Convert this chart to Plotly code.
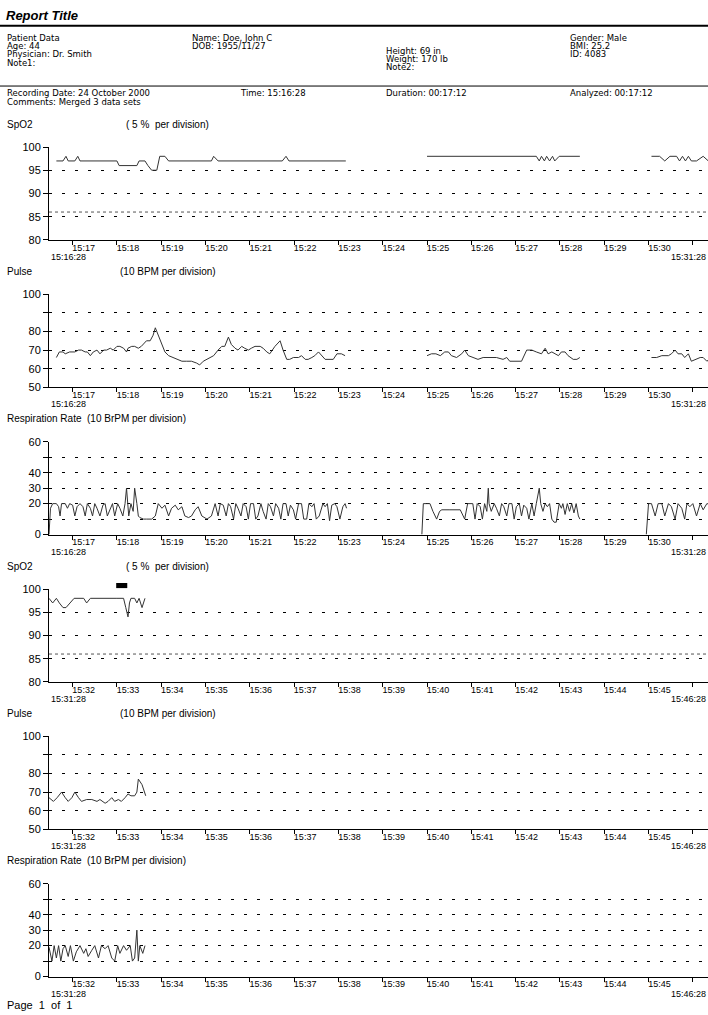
import pandas as pd
import plotly.graph_objects as go

W, H = 708, 1015
START = pd.Timestamp("2000-10-24 15:16:28")

# ---- data: seconds after 15:16:28, three merged recordings ----
set1_spo2_t = [10, 19, 23, 26, 35, 39, 42, 92, 95, 119, 122, 130, 134, 139, 146, 150, 157, 162,
               220, 223, 229, 316, 321, 325, 402]
set1_spo2 = [97, 97, 98, 97, 97, 98, 97, 97, 96, 96, 97, 97, 96, 95, 95, 98, 98, 97,
             97, 98, 97, 97, 98, 97, 97]
set2_spo2_t = [512, 660, 664, 667, 671, 674, 678, 682, 685, 691, 719]
set2_spo2 = [98, 98, 97, 98, 97, 98, 97, 98, 97, 98, 98]
set3_spo2_t = [816, 827, 834, 841, 850, 854, 858, 862, 866, 870, 877, 886, 893,
               900, 905, 910, 914, 919, 923, 928, 934, 942, 947, 951, 956, 992, 1001, 1004,
               1007, 1009, 1011, 1016, 1019, 1022, 1026, 1030]
set3_spo2 = [98, 98, 97, 98, 98, 97, 98, 97, 98, 97, 97, 98, 97,
             98, 97, 98, 97, 96, 96, 97, 98, 98, 98, 97, 98, 98, 98, 96,
             94, 97, 98, 98, 97, 98, 96, 98]

set1_pulse_t = [10, 14, 19, 22, 28, 35, 40, 44, 49, 52, 56, 60, 65, 69, 74, 78, 83, 87, 92, 96,
                101, 105, 107, 112, 116, 121, 125, 132, 137, 141, 144, 148, 153, 157, 162, 168,
                173, 180, 186, 193, 200, 204, 209, 214, 223, 229, 234, 238, 243, 247, 252, 256,
                261, 265, 270, 274, 279, 286, 290, 295, 299, 306, 313, 317, 322, 326, 331, 338,
                342, 347, 351, 356, 360, 365, 369, 374, 385, 390, 396, 401]
set1_pulse = [66, 69, 69, 68, 69, 69, 70, 70, 69, 69, 67, 69, 70, 68, 70, 70, 71, 70, 72, 72,
              71, 69, 71, 72, 72, 71, 72, 75, 75, 78, 82, 78, 74, 69, 67, 66, 65, 64, 64, 64,
              63, 62, 64, 65, 67, 70, 72, 72, 77, 73, 71, 70, 72, 71, 70, 71, 72, 72, 71, 69,
              68, 72, 75, 70, 65, 65, 66, 66, 67, 65, 65, 66, 67, 69, 67, 65, 65, 68, 68, 67]
set2_pulse_t = [512, 518, 524, 530, 536, 541, 545, 552, 559, 563, 568, 575, 581, 588, 597, 606,
                615, 620, 624, 633, 640, 647, 654, 660, 667, 672, 676, 681, 685, 690, 694, 699,
                703, 710, 715, 719]
set2_pulse = [67, 68, 68, 67, 69, 69, 67, 66, 68, 70, 67, 66, 65, 66, 66, 66, 65, 66, 64, 64,
              64, 70, 70, 69, 68, 71, 68, 69, 68, 67, 69, 69, 67, 65, 65, 66]
set3_pulse_t = [816, 823, 830, 839, 843, 848, 852, 857, 861, 866, 870, 877, 882, 886, 891,
                900, 906, 911, 917, 922, 926, 931, 935, 940, 944, 951, 958, 965, 969, 976, 980,
                985, 989, 994, 998, 1003, 1007, 1011, 1014, 1016, 1019, 1021, 1026, 1029, 1031]
set3_pulse = [66, 66, 67, 67, 68, 70, 68, 68, 66, 68, 64, 65, 66, 66, 64,
              67, 65, 67, 70, 67, 65, 67, 70, 67, 65, 66, 66, 65, 66, 64, 65,
              67, 65, 66, 65, 67, 69, 68, 68, 68, 70, 77, 74, 71, 68]

set1_resp_t = [0, 2, 5, 10, 13, 15, 17, 22, 25, 28, 32, 35, 38, 42, 46, 49, 52, 56, 59, 62,
               65, 69, 73, 76, 79, 83, 86, 89, 93, 96, 100, 103, 105, 108, 111, 114, 116, 119,
               121, 123, 128, 132, 139, 144, 148, 153, 157, 162, 166, 171, 175, 180, 184, 189,
               193, 198, 202, 207, 210, 214, 220, 225, 229, 232, 236, 240, 243, 246, 250, 253,
               256, 260, 263, 267, 270, 273, 277, 280, 283, 287, 290, 294, 297, 300, 304, 307,
               311, 314, 317, 321, 324, 327, 331, 334, 338, 342, 345, 349, 352, 356, 359, 362,
               366, 371, 374, 377, 380, 383, 387, 390, 394, 398, 401, 403]
set1_resp = [0, 17, 20, 20, 18, 12, 20, 20, 17, 20, 19, 12, 18, 20, 18, 12, 20, 17, 12, 20,
             17, 12, 19, 20, 12, 16, 20, 12, 20, 17, 12, 20, 30, 12, 20, 15, 30, 20, 12, 11,
             10, 10, 10, 12, 20, 17, 19, 12, 17, 19, 16, 18, 12, 11, 12, 16, 18, 12, 11, 10,
             12, 20, 12, 20, 19, 12, 20, 18, 10, 20, 17, 12, 20, 18, 10, 20, 20, 10, 12, 20,
             15, 10, 20, 18, 12, 20, 17, 10, 20, 20, 12, 19, 16, 10, 20, 20, 10, 10, 20, 18,
             20, 10, 12, 20, 18, 20, 9, 19, 20, 18, 10, 18, 20, 17]
set2_resp_t = [505, 507, 511, 516, 520, 525, 529, 532, 543, 552, 557, 561, 563, 567, 570, 574,
               577, 580, 584, 587, 590, 593, 595, 596, 599, 603, 606, 610, 613, 616, 620, 623,
               627, 630, 633, 637, 640, 643, 647, 650, 654, 657, 660, 664, 666, 669, 672, 675,
               678, 681, 684, 687, 691, 694, 696, 699, 702, 705, 708, 711, 714, 717, 719]
set2_resp = [0, 20, 20, 20, 15, 10, 15, 16, 16, 16, 16, 12, 10, 20, 20, 20, 10, 20, 18, 10,
             20, 15, 30, 20, 15, 20, 17, 12, 20, 18, 12, 20, 20, 10, 18, 20, 12, 19, 17, 10,
             20, 12, 20, 30, 20, 15, 20, 18, 20, 10, 8, 8, 20, 17, 20, 13, 20, 15, 20, 14,
             20, 12, 10]
set3_resp_t = [809, 812, 816, 821, 825, 830, 834, 839, 843, 848, 852, 857, 861, 864, 868, 872,
               877, 882, 886, 891, 900, 904, 907, 910, 913, 916, 919, 922, 926, 929, 933, 937,
               942, 947, 950, 953, 958, 962, 967, 971, 976, 980, 985, 989, 993, 996, 1001, 1005,
               1010, 1013, 1016, 1019, 1021, 1023, 1027, 1030]
set3_resp = [0, 20, 20, 12, 20, 20, 12, 20, 18, 10, 20, 17, 10, 20, 18, 20, 12, 20, 16, 20,
             19, 10, 20, 12, 20, 10, 18, 20, 13, 20, 10, 16, 20, 15, 18, 13, 17, 20, 12, 20,
             18, 20, 12, 10, 20, 15, 20, 17, 20, 10, 12, 30, 10, 20, 15, 20]

spo2_alarm = 86
event_t = [991, 1006]  # marker drawn above the second SpO2 strip

header_left = ["Patient Data", "Age: 44", "Physician: Dr. Smith", "Note1:"]
header_name = ["Name: Doe, John C", "DOB: 1955/11/27"]
header_body = ["Height: 69 in", "Weight: 170 lb", "Note2:"]
header_right = ["Gender: Male", "BMI: 25.2", "ID: 4083"]

FONT = "Liberation Sans, Arial, sans-serif"
HFONT = "DejaVu Sans, sans-serif"
LINE = "#333333"


def ts(sec):
    return START + pd.to_timedelta(sec, unit="s")


def px(x):
    return x / W


def py(y):
    return 1 - y / H


fig = go.Figure()

# panel layout: (signal, strip 0/1, title, unit text, unit x)
panels = [
    ("spo2", 0, "SpO2", "( 5 %  per division)", 124),
    ("pulse", 0, "Pulse", "(10 BPM per division)", 118),
    ("resp", 0, "Respiration Rate  (10 BrPM per division)", "", 0),
    ("spo2", 1, "SpO2", "( 5 %  per division)", 124),
    ("pulse", 1, "Pulse", "(10 BPM per division)", 118),
    ("resp", 1, "Respiration Rate  (10 BrPM per division)", "", 0),
]
yconf = {
    "spo2": dict(range=[80, 100], tickvals=[80, 85, 90, 95, 100],
                 ticktext=["80", "85", "90", "95", "100"]),
    "pulse": dict(range=[50, 100], tickvals=[50, 60, 70, 80, 90, 100],
                  ticktext=["50", "60", "70", "80", "", "100"]),
    "resp": dict(range=[0, 60], tickvals=[0, 10, 20, 30, 40, 50, 60],
                 ticktext=["0", "", "20", "30", "40", "", "60"]),
}
series = {
    "spo2": [(set1_spo2_t, set1_spo2), (set2_spo2_t, set2_spo2), (set3_spo2_t, set3_spo2)],
    "pulse": [(set1_pulse_t, set1_pulse), (set2_pulse_t, set2_pulse), (set3_pulse_t, set3_pulse)],
    "resp": [(set1_resp_t, set1_resp), (set2_resp_t, set2_resp), (set3_resp_t, set3_resp)],
}

X0 = 49
PX_PER_MIN = 44.3
visible_s = (W - X0) / PX_PER_MIN * 60
TOP0, STEP, PH = 142.7, 149.1, 94

annotations = []
shapes = []
for i, (sig, strip, title, unit, unit_x) in enumerate(panels):
    n = i + 1
    xa = "x" if n == 1 else f"x{n}"
    ya = "y" if n == 1 else f"y{n}"
    top = TOP0 + STEP * i
    bot = top + PH
    off = strip * 900
    for t, v in series[sig]:
        fig.add_trace(go.Scatter(x=ts(pd.Series(t)), y=v, mode="lines", xaxis=xa, yaxis=ya,
                                 line=dict(color=LINE, width=1), showlegend=False,
                                 hoverinfo="skip"))
    minutes = pd.date_range(ts(off + 32), periods=15, freq="min")
    labels = [m.strftime("%H:%M") for m in minutes]
    labels[-1] = ""
    fig.layout[f"xaxis{n}"] = dict(
        domain=[px(X0), 1], anchor=ya, type="date",
        range=[ts(off), ts(off + visible_s)],
        tickmode="array", tickvals=list(minutes), ticktext=labels,
        ticks="outside", ticklen=4, tickcolor="black", showline=True, linecolor="black",
        showgrid=False, zeroline=False, ticklabelshift=11, ticklabelstandoff=-5,
        tickfont=dict(family=FONT, size=9, color="black"),
    )
    fig.layout[f"yaxis{n}"] = dict(
        domain=[py(bot), py(top)], anchor=xa, tickmode="array",
        ticks="outside", ticklen=5, tickcolor="black", showline=True, linecolor="black",
        showgrid=True, gridcolor="black", griddash="3px,10px", gridwidth=1, zeroline=False,
        tickfont=dict(family=FONT, size=11, color="black"), **yconf[sig],
    )
    # panel titles
    annotations.append(dict(text=title, x=px(5), y=py(top - 23)))
    if unit:
        annotations.append(dict(text=unit, x=px(unit_x), y=py(top - 23)))
    # start / end time labels
    annotations.append(dict(text=ts(off).strftime("%H:%M:%S"), x=ts(off), xref=xa,
                            y=0, yref=f"{ya} domain", yshift=-17,
                            font=dict(family=FONT, size=9, color="black")))
    annotations.append(dict(text=ts(off + 900).strftime("%H:%M:%S"), x=1,
                            y=0, yref=f"{ya} domain", yshift=-17, xanchor="right",
                            font=dict(family=FONT, size=9, color="black")))
    if sig == "spo2":
        shapes.append(dict(type="line", xref=f"{xa} domain", yref=ya, x0=0, x1=1,
                           y0=spo2_alarm, y1=spo2_alarm,
                           line=dict(color="#555555", width=1, dash="3px,3px")))
    if sig == "spo2" and strip == 1:
        shapes.append(dict(type="rect", xref=xa, yref=f"{ya} domain",
                           x0=ts(event_t[0]), x1=ts(event_t[1]), y0=1.01, y1=1.065,
                           fillcolor="black", line=dict(width=0)))

# report header
hfont = dict(family=HFONT, size=8.5, color="black")
annotations.append(dict(text="<b><i>Report Title</i></b>", x=px(4), y=py(10),
                        font=dict(family=FONT, size=13, color="black")))
for k, s in enumerate(header_left):
    annotations.append(dict(text=s, x=px(5), y=py(32 + 8.5 * k), font=hfont))
for k, s in enumerate(header_name):
    annotations.append(dict(text=s, x=px(190), y=py(32 + 8.5 * k), font=hfont))
for k, s in enumerate(header_body):
    annotations.append(dict(text=s, x=px(384), y=py(45.5 + 8 * k), font=hfont))
for k, s in enumerate(header_right):
    annotations.append(dict(text=s, x=px(568), y=py(32 + 8.5 * k), font=hfont))
row = [("Recording Date: 24 October 2000", 5), ("Time: 15:16:28", 238),
       ("Duration: 00:17:12", 384), ("Analyzed: 00:17:12", 568)]
for s, x in row:
    annotations.append(dict(text=s, x=px(x), y=py(88), font=hfont))
annotations.append(dict(text="Comments: Merged 3 data sets", x=px(5), y=py(97), font=hfont))
annotations.append(dict(text="Page  1  of  1", x=px(5), y=py(1010.5),
                        font=dict(family=FONT, size=11, color="black")))

for a in annotations:
    a.setdefault("xref", "paper")
    a.setdefault("yref", "paper")
    a.setdefault("xanchor", "left")
    a.setdefault("yanchor", "middle")
    a.setdefault("showarrow", False)
    a.setdefault("font", dict(family=FONT, size=10, color="black"))

shapes.append(dict(type="line", xref="paper", yref="paper", x0=0, x1=1, y0=py(20), y1=py(20),
                   line=dict(color="black", width=2)))
shapes.append(dict(type="line", xref="paper", yref="paper", x0=0, x1=1, y0=py(81), y1=py(81),
                   line=dict(color="black", width=1)))

fig.update_layout(
    width=W, height=H, margin=dict(l=0, r=0, t=0, b=0),
    paper_bgcolor="white", plot_bgcolor="white",
    font=dict(family=FONT, size=10, color="black"),
    annotations=annotations, shapes=shapes, showlegend=False,
)

fig.write_html("out.html", config={"displayModeBar": False},
               post_script="document.body.style.margin='0px';")
